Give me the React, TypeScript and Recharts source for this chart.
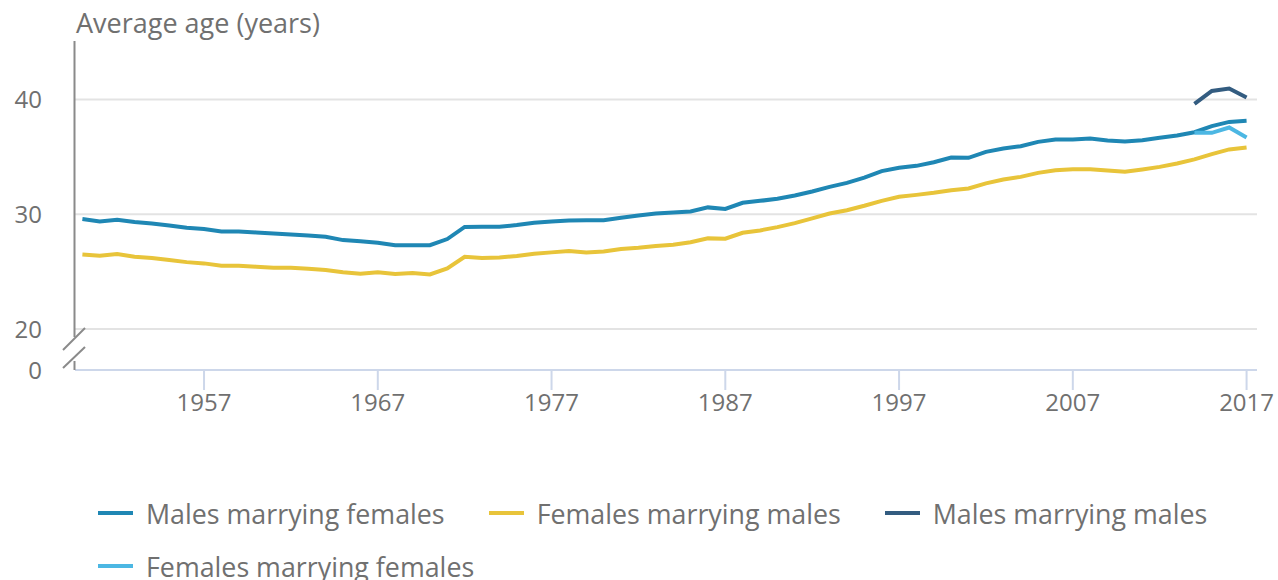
import React from 'react';
import { LineChart, Line, XAxis, YAxis, CartesianGrid } from 'recharts';

const years = [
  1950, 1951, 1952, 1953, 1954, 1955, 1956, 1957, 1958, 1959,
  1960, 1961, 1962, 1963, 1964, 1965, 1966, 1967, 1968, 1969,
  1970, 1971, 1972, 1973, 1974, 1975, 1976, 1977, 1978, 1979,
  1980, 1981, 1982, 1983, 1984, 1985, 1986, 1987, 1988, 1989,
  1990, 1991, 1992, 1993, 1994, 1995, 1996, 1997, 1998, 1999,
  2000, 2001, 2002, 2003, 2004, 2005, 2006, 2007, 2008, 2009,
  2010, 2011, 2012, 2013, 2014, 2015, 2016, 2017,
];

const malesMarryingFemales = [
  29.58, 29.38, 29.52, 29.32, 29.2, 29.03, 28.82, 28.71, 28.5, 28.5,
  28.42, 28.33, 28.24, 28.16, 28.04, 27.75, 27.64, 27.52, 27.31, 27.31,
  27.31, 27.84, 28.9, 28.91, 28.91, 29.06, 29.26, 29.38, 29.46, 29.49,
  29.49, 29.69, 29.9, 30.07, 30.16, 30.25, 30.6, 30.47, 31.0, 31.17,
  31.35, 31.64, 31.99, 32.39, 32.74, 33.2, 33.76, 34.05, 34.22, 34.54,
  34.95, 34.92, 35.44, 35.73, 35.93, 36.31, 36.52, 36.52, 36.6, 36.43,
  36.34, 36.46, 36.66, 36.86, 37.15, 37.68, 38.05, 38.14,
];

const femalesMarryingMales = [
  26.5, 26.38, 26.53, 26.3, 26.18, 26.01, 25.83, 25.72, 25.51, 25.51,
  25.43, 25.34, 25.34, 25.25, 25.14, 24.94, 24.82, 24.94, 24.79, 24.88,
  24.76, 25.28, 26.3, 26.18, 26.24, 26.36, 26.56, 26.68, 26.79, 26.68,
  26.76, 26.97, 27.08, 27.23, 27.34, 27.57, 27.9, 27.87, 28.39, 28.59,
  28.88, 29.23, 29.64, 30.07, 30.35, 30.74, 31.17, 31.52, 31.69, 31.87,
  32.1, 32.25, 32.69, 33.03, 33.26, 33.61, 33.84, 33.93, 33.93, 33.82,
  33.7, 33.9, 34.13, 34.43, 34.78, 35.24, 35.65, 35.82,
];

const sameSexYears = [2014, 2015, 2016, 2017];
const malesMarryingMales = [39.62, 40.75, 40.96, 40.17];
const femalesMarryingFemales = [37.1, 37.1, 37.56, 36.69];

const xTicks = [1957, 1967, 1977, 1987, 1997, 2007, 2017];
const yBreakValue = 16.43;
const yTicks = [yBreakValue, 20, 30, 40];
const yTickLabels: Record<string, string> = { '16.43': '0', '20': '20', '30': '30', '40': '40' };

const seriesNames = [
  'Males marrying females',
  'Females marrying males',
  'Males marrying males',
  'Females marrying females',
];
const colors = ['#1f87b4', '#e8c43a', '#335c80', '#4cb7e3'];

const data = years.map((year, i) => {
  const j = sameSexYears.indexOf(year);
  return {
    year,
    mf: malesMarryingFemales[i],
    fm: femalesMarryingMales[i],
    mm: j >= 0 ? malesMarryingMales[j] : null,
    ff: j >= 0 ? femalesMarryingFemales[j] : null,
  };
});

const FONT = '"Open Sans", "Noto Sans", sans-serif';
const TEXT = '#707070';

function LegendItem({ name, color }: { name: string; color: string }) {
  return (
    <div style={{ display: 'flex', alignItems: 'center' }}>
      <div style={{ width: 35, height: 4, background: color, marginRight: 13 }} />
      <span style={{ fontSize: 26.8, color: TEXT, fontFamily: FONT, whiteSpace: 'nowrap' }}>{name}</span>
    </div>
  );
}

export default function App() {
  return (
    <div style={{ position: 'absolute', left: 0, top: 0, width: 1278, height: 580, background: '#fff', overflow: 'hidden' }}>
      <LineChart
        width={1278}
        height={580}
        data={data}
        margin={{ top: 41, right: 21, bottom: 160, left: 0 }}
      >
        <CartesianGrid
          vertical={false}
          horizontalValues={[20, 30, 40]}
          stroke="#e3e3e3"
          strokeWidth={2}
        />
        <XAxis
          dataKey="year"
          type="number"
          domain={[1949.574, 2017.6]}
          ticks={xTicks}
          height={50}
          stroke="#cdd7ea"
          strokeWidth={2}
          tickSize={20}
          tickMargin={4}
          tick={{ fill: TEXT, fontSize: 24, fontFamily: FONT }}
          interval={0}
        />
        <YAxis
          type="number"
          domain={[yBreakValue, 45.1]}
          ticks={yTicks}
          width={75}
          axisLine={false}
          tickLine={false}
          tickSize={30}
          tickMargin={3}
          tickFormatter={(v: number) => yTickLabels[String(v)] ?? String(v)}
          tick={{ fill: TEXT, fontSize: 24, fontFamily: FONT }}
          interval={0}
        />
        <Line dataKey="fm" name={seriesNames[1]} stroke={colors[1]} strokeWidth={4} dot={false} isAnimationActive={false} />
        <Line dataKey="mf" name={seriesNames[0]} stroke={colors[0]} strokeWidth={4} dot={false} isAnimationActive={false} />
        <Line dataKey="mm" name={seriesNames[2]} stroke={colors[2]} strokeWidth={4} dot={false} isAnimationActive={false} />
        <Line dataKey="ff" name={seriesNames[3]} stroke={colors[3]} strokeWidth={4} dot={false} isAnimationActive={false} />
      </LineChart>

      <svg width={1278} height={580} style={{ position: 'absolute', left: 0, top: 0, pointerEvents: 'none' }}>
        <line x1={74.5} y1={41} x2={74.5} y2={337} stroke="#8a8a8a" strokeWidth={2} />
        <line x1={74.5} y1={361} x2={74.5} y2={370} stroke="#8a8a8a" strokeWidth={2} />
        <line x1={63} y1={350} x2={85} y2={328} stroke="#8a8a8a" strokeWidth={2} />
        <line x1={63} y1={368} x2={85} y2={347} stroke="#8a8a8a" strokeWidth={2} />
      </svg>

      <div style={{ position: 'absolute', left: 76, top: 3, fontSize: 27, color: TEXT, fontFamily: FONT, lineHeight: '40px', whiteSpace: 'nowrap' }}>
        Average age (years)
      </div>

      <div style={{ position: 'absolute', left: 98, top: 493, display: 'flex', gap: 44, height: 40 }}>
        <LegendItem name={seriesNames[0]} color={colors[0]} />
        <LegendItem name={seriesNames[1]} color={colors[1]} />
        <LegendItem name={seriesNames[2]} color={colors[2]} />
      </div>
      <div style={{ position: 'absolute', left: 98, top: 546, display: 'flex', gap: 44, height: 40 }}>
        <LegendItem name={seriesNames[3]} color={colors[3]} />
      </div>
    </div>
  );
}
